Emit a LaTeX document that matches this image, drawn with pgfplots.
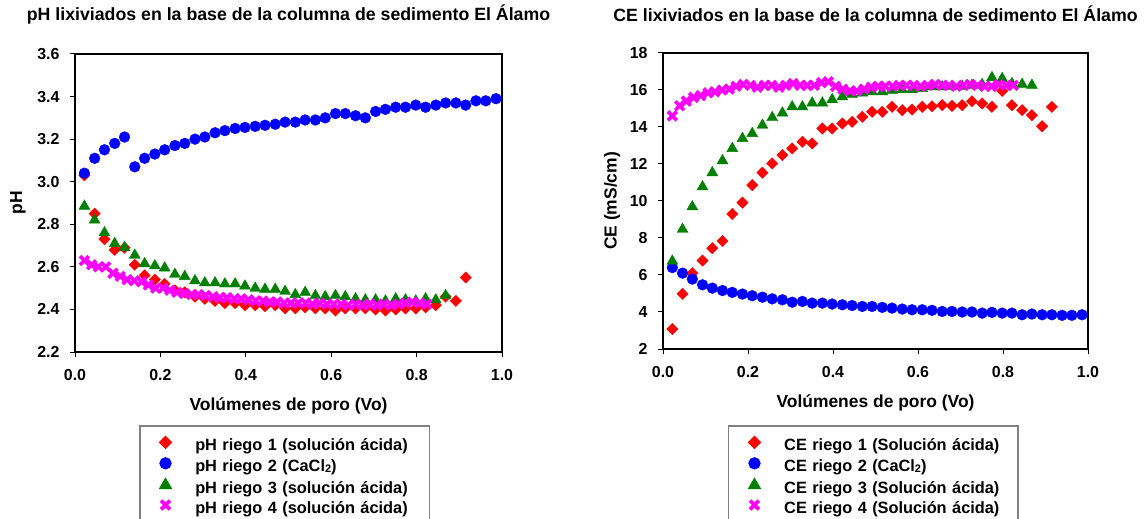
\documentclass[border=0pt]{standalone}
\usepackage{fontspec}
\setmainfont{Liberation Sans}
\usepackage{pgfplots}
\usepackage{pgfplotstable}
\pgfplotsset{compat=1.18}

\definecolor{serRed}{RGB}{255,0,0}
\definecolor{serBlue}{RGB}{0,0,255}
\definecolor{serGreen}{RGB}{0,128,0}
\definecolor{serMag}{RGB}{255,0,255}

% ---------- pH ----------
\pgfplotstableread{
x y
0.022 3.03
0.046 2.85
0.069 2.73
0.093 2.68
0.116 2.69
0.140 2.61
0.163 2.56
0.187 2.54
0.210 2.52
0.234 2.49
0.257 2.48
0.281 2.46
0.304 2.45
0.328 2.44
0.351 2.43
0.375 2.43
0.398 2.42
0.422 2.42
0.445 2.415
0.469 2.42
0.492 2.405
0.516 2.405
0.539 2.41
0.563 2.405
0.586 2.405
0.610 2.395
0.633 2.405
0.657 2.405
0.680 2.405
0.704 2.40
0.727 2.395
0.751 2.40
0.774 2.405
0.798 2.405
0.821 2.41
0.845 2.42
0.868 2.46
0.892 2.44
0.915 2.55
}\phUno

\pgfplotstableread{
x y
0.022 3.04
0.046 3.11
0.069 3.15
0.093 3.18
0.116 3.21
0.140 3.07
0.163 3.11
0.187 3.13
0.210 3.15
0.234 3.17
0.257 3.18
0.281 3.20
0.304 3.21
0.328 3.23
0.351 3.24
0.375 3.25
0.398 3.255
0.422 3.26
0.445 3.265
0.469 3.27
0.492 3.28
0.516 3.28
0.539 3.29
0.563 3.29
0.586 3.30
0.610 3.32
0.633 3.32
0.657 3.31
0.680 3.30
0.704 3.33
0.727 3.34
0.751 3.35
0.774 3.35
0.798 3.36
0.821 3.35
0.845 3.36
0.868 3.37
0.892 3.37
0.915 3.36
0.939 3.38
0.962 3.38
0.986 3.39
}\phDos

\pgfplotstableread{
x y
0.022 2.885
0.046 2.82
0.069 2.76
0.093 2.71
0.116 2.69
0.140 2.655
0.163 2.615
0.187 2.605
0.210 2.595
0.234 2.565
0.257 2.555
0.281 2.535
0.304 2.525
0.328 2.525
0.351 2.52
0.375 2.52
0.398 2.51
0.422 2.50
0.445 2.495
0.469 2.495
0.492 2.485
0.516 2.47
0.539 2.48
0.563 2.465
0.586 2.46
0.610 2.465
0.633 2.46
0.657 2.45
0.680 2.445
0.704 2.445
0.727 2.44
0.751 2.45
0.774 2.445
0.798 2.44
0.821 2.45
0.845 2.445
0.868 2.465
}\phTres

\pgfplotstableread{
x y
0.022 2.63
0.039 2.61
0.055 2.60
0.072 2.60
0.089 2.57
0.106 2.555
0.122 2.54
0.139 2.535
0.156 2.53
0.172 2.515
0.189 2.50
0.206 2.50
0.222 2.49
0.239 2.48
0.256 2.475
0.273 2.47
0.289 2.47
0.306 2.465
0.323 2.46
0.339 2.455
0.356 2.455
0.373 2.45
0.389 2.45
0.406 2.445
0.423 2.44
0.440 2.44
0.456 2.435
0.473 2.435
0.490 2.43
0.506 2.43
0.523 2.43
0.540 2.43
0.556 2.425
0.573 2.43
0.590 2.425
0.606 2.425
0.623 2.425
0.640 2.42
0.657 2.425
0.673 2.42
0.690 2.425
0.707 2.42
0.723 2.425
0.740 2.42
0.757 2.425
0.773 2.43
0.790 2.435
0.807 2.43
0.824 2.425
}\phCuatro

% ---------- CE (mS/cm) ----------
\pgfplotstableread{
x y
0.022 3.08
0.046 4.98
0.069 6.10
0.093 6.78
0.116 7.45
0.140 7.84
0.163 9.30
0.187 9.91
0.210 10.86
0.234 11.53
0.257 12.03
0.281 12.48
0.304 12.84
0.328 13.20
0.351 13.11
0.375 13.92
0.398 13.92
0.422 14.19
0.445 14.28
0.469 14.55
0.492 14.82
0.516 14.82
0.539 15.09
0.563 14.91
0.586 14.94
0.610 15.09
0.633 15.12
0.657 15.18
0.680 15.14
0.704 15.18
0.727 15.39
0.751 15.27
0.774 15.09
0.798 15.95
0.821 15.18
0.845 14.91
0.868 14.64
0.892 14.04
0.915 15.09
}\ceUno

\pgfplotstableread{
x y
0.022 6.40
0.046 6.10
0.069 5.78
0.093 5.47
0.116 5.29
0.140 5.16
0.163 5.06
0.187 4.97
0.210 4.88
0.234 4.80
0.257 4.71
0.281 4.66
0.304 4.53
0.328 4.57
0.351 4.48
0.375 4.48
0.398 4.43
0.422 4.39
0.445 4.35
0.469 4.30
0.492 4.30
0.516 4.25
0.539 4.21
0.563 4.16
0.586 4.12
0.610 4.12
0.633 4.09
0.657 4.03
0.680 4.03
0.704 4.00
0.727 4.00
0.751 3.94
0.774 3.98
0.798 3.94
0.821 3.94
0.845 3.85
0.868 3.89
0.892 3.85
0.915 3.85
0.939 3.82
0.962 3.82
0.986 3.85
}\ceDos

\pgfplotstableread{
x y
0.022 6.75
0.046 8.47
0.069 9.69
0.093 10.77
0.116 11.53
0.140 12.18
0.163 12.84
0.187 13.38
0.210 13.65
0.234 14.10
0.257 14.51
0.281 14.76
0.304 15.09
0.328 15.09
0.351 15.30
0.375 15.30
0.398 15.48
0.422 15.63
0.445 15.77
0.469 15.84
0.492 15.90
0.516 15.90
0.539 15.99
0.563 16.02
0.586 16.02
0.610 16.08
0.633 16.17
0.657 16.17
0.680 16.20
0.704 16.20
0.727 16.25
0.751 16.30
0.774 16.67
0.798 16.62
0.821 16.35
0.845 16.31
0.868 16.26
}\ceTres

\pgfplotstableread{
x y
0.022 14.60
0.039 15.15
0.055 15.40
0.072 15.60
0.089 15.70
0.106 15.85
0.122 15.90
0.139 16.00
0.156 16.05
0.172 16.20
0.189 16.30
0.206 16.25
0.222 16.15
0.239 16.25
0.256 16.25
0.273 16.15
0.289 16.25
0.306 16.35
0.323 16.25
0.339 16.25
0.356 16.25
0.373 16.40
0.389 16.45
0.406 16.20
0.423 16.05
0.440 15.95
0.456 15.95
0.473 16.05
0.490 16.15
0.506 16.20
0.523 16.20
0.540 16.20
0.556 16.25
0.573 16.25
0.590 16.25
0.606 16.20
0.623 16.25
0.640 16.30
0.657 16.25
0.673 16.25
0.690 16.20
0.707 16.25
0.723 16.30
0.740 16.25
0.757 16.20
0.773 16.20
0.790 16.30
0.807 16.25
0.824 16.25
}\ceCuatro

\pgfplotsset{
  panel/.style={
    scale only axis,
    anchor=south west,
    xmin=0, xmax=1,
    xtick={0,0.2,0.4,0.6,0.8,1.0},
    scaled ticks=false,
    tick align=outside,
    xtick pos=left, ytick pos=left,
    major tick length=5bp,
    every tick/.style={black, line width=1bp},
    axis line style={black, line width=1.2bp},
    /pgf/number format/assume math mode=true,
    ticklabel style={font=\fontsize{16}{16}\selectfont\bfseries},
    xticklabel style={yshift=-9bp, /pgf/number format/.cd, fixed, fixed zerofill, precision=1, /tikz/.cd},
    yticklabel style={xshift=-7bp},
    label style={font=\fontsize{17.5}{17.5}\selectfont\bfseries},
    title style={font=\fontsize{17.8}{17.8}\selectfont\bfseries, anchor=center},
    xlabel style={anchor=center},
    ylabel style={anchor=center},
    legend cell align=left,
    legend image code/.code={
      \path (-9bp,0bp) (9bp,0bp);
      \draw[#1] plot coordinates {(0bp,4.5bp)};
    },
    legend style={
      anchor=north west,
      draw=black!50, line width=1.5bp,
      fill=white,
      font=\fontsize{16.4}{16.4}\selectfont\bfseries,
      inner xsep=16bp, inner ysep=11bp,
      column sep=20bp, row sep=3bp,
      nodes={inner sep=0pt, text height=12bp, text depth=4bp, text width=218bp, align=left},
    },
  },
  sRed/.style={only marks, mark=square*, mark size=4bp,
    mark options={rotate=45, draw=serRed, fill=serRed}},
  sBlue/.style={only marks, mark=*, mark size=5.4bp,
    mark options={draw=serBlue, fill=serBlue}},
  sGreen/.style={only marks, mark=triangle*, mark size=6.3bp,
    mark options={draw=serGreen, fill=serGreen}},
  sMag/.style={only marks, mark=x, mark size=6.2bp,
    mark options={draw=serMag, line width=3.6bp}},
}

\newcommand{\cacl}{CaCl\raisebox{-1bp}{\fontsize{11}{11}\selectfont 2}}

\begin{document}
\begin{tikzpicture}
\useasboundingbox (0,0) rectangle (1146bp,519bp);

% pH panel
\begin{axis}[panel,
  at={(75bp,167bp)}, width=427bp, height=298bp,
  ymin=2.2, ymax=3.6,
  ytick={2.2,2.4,2.6,2.8,3.0,3.2,3.4,3.6},
  yticklabel style={/pgf/number format/.cd, fixed, fixed zerofill, precision=1, /tikz/.cd},
  title={pH lixiviados en la base de la columna de sedimento El Álamo},
  title style={at={(0.5,1.1141)}},
  xlabel={Volúmenes de poro (Vo)},
  xlabel style={at={(0.5,-0.1812)}},
  ylabel={pH},
  ylabel style={at={(-0.1335,0.5)}},
  legend style={at={(0.1499,-0.245)}},
]
\addplot[sRed] table {\phUno};
\addlegendentry{pH riego 1 (solución ácida)}
\addplot[sBlue] table {\phDos};
\addlegendentry{pH riego 2 (\cacl)}
\addplot[sGreen] table {\phTres};
\addlegendentry{pH riego 3 (solución ácida)}
\addplot[sMag] table {\phCuatro};
\addlegendentry{pH riego 4 (solución ácida)}
\end{axis}

% CE panel
\begin{axis}[panel,
  at={(663bp,170bp)}, width=425bp, height=296bp,
  ymin=2, ymax=18,
  ytick={2,4,6,8,10,12,14,16,18},
  title={CE lixiviados en la base de la columna de sedimento El Álamo},
  title style={at={(0.5,1.1115)}},
  xlabel={Volúmenes de poro (Vo)},
  xlabel style={at={(0.5,-0.1824)}},
  ylabel={CE (mS/cm)},
  ylabel style={at={(-0.12,0.5)}},
  legend style={at={(0.1529,-0.2568)}},
]
\addplot[sRed] table {\ceUno};
\addlegendentry{CE riego 1 (Solución ácida)}
\addplot[sBlue] table {\ceDos};
\addlegendentry{CE riego 2 (\cacl)}
\addplot[sGreen] table {\ceTres};
\addlegendentry{CE riego 3 (Solución ácida)}
\addplot[sMag] table {\ceCuatro};
\addlegendentry{CE riego 4 (Solución ácida)}
\end{axis}
\end{tikzpicture}
\end{document}
